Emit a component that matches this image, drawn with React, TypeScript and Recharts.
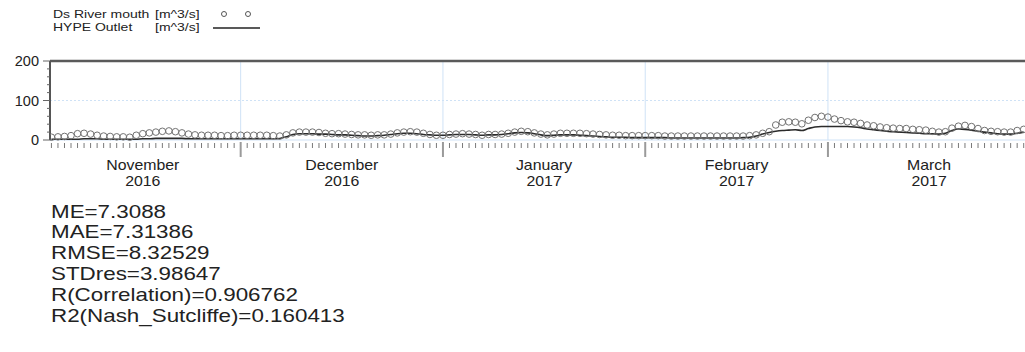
import { ComposedChart, Line, Scatter, XAxis, YAxis, ReferenceLine } from 'recharts'

// day index: 0 = 1 Nov 2016, daily values from 2 Nov 2016 to 31 Mar 2017
const DAYS = Array.from({ length: 150 }, (_, i) => i + 1)

const OBS = [
  // Nov
  7, 8, 9, 11, 16, 17, 15, 12, 10, 9, 8, 8, 7, 12, 16, 18, 20, 22, 23, 21, 18, 15, 13, 12, 12, 12, 11, 11, 12,
  // Dec
  12, 12, 12, 12, 12, 11, 10, 13, 18, 20, 20, 20, 19, 17, 16, 16, 15, 14, 13, 13, 12, 13, 13, 15, 18, 20, 21, 20, 17, 14, 12,
  // Jan
  12, 14, 15, 16, 15, 14, 12, 14, 14, 15, 17, 20, 22, 21, 18, 15, 13, 15, 17, 17, 17, 17, 16, 15, 14, 13, 12, 12, 11, 11, 11,
  // Feb
  11, 11, 11, 10, 10, 10, 10, 10, 10, 10, 10, 10, 10, 10, 10, 10, 11, 13, 17, 21, 38, 45, 46, 45, 41, 50, 57, 60,
  // Mar
  58, 53, 49, 46, 45, 42, 38, 36, 33, 31, 30, 29, 29, 27, 26, 25, 22, 20, 21, 30, 35, 37, 34, 29, 24, 22, 21, 20, 20, 24, 27,
]

const HYPE = [
  2, 2, 2, 2, 2, 3, 3, 3, 2, 2, 2, 2, 2, 2, 3, 3, 4, 4, 4, 4, 4, 3, 3, 3, 3, 3, 3, 3, 3, 3, 3, 3, 3, 3, 3, 4,
  8, 14, 16, 16, 16, 15, 15, 14, 13, 13, 12, 11, 10, 10, 11, 12, 14, 16, 17, 17, 16, 14, 13, 12,
  12, 13, 14, 14, 14, 13, 12, 13, 13, 14, 16, 18, 19, 18, 16, 13, 11, 12, 13, 13, 13, 12, 11, 10, 9, 8, 7, 7, 7, 6, 6,
  6, 6, 6, 6, 5, 5, 5, 5, 5, 5, 5, 5, 5, 5, 5, 6, 7,
  10, 15, 19, 22, 24, 25, 26, 24, 29, 33, 34,
  34, 34, 34, 34, 33, 31, 28, 26, 24, 22, 21, 20, 19, 18, 17, 16, 16, 15, 17, 24, 28, 27, 25, 22, 20, 18, 16, 15, 15, 17, 20,
]

const MONTH_STARTS = [30, 61, 92, 120]
const MONTH_MIDS = [15, 45.5, 76.5, 106, 135.5]
const MONTH_NAMES = ['November', 'December', 'January', 'February', 'March']
const MONTH_YEARS = ['2016', '2016', '2017', '2017', '2017']

const Y_TICKS = [0, 20, 40, 60, 80, 100, 120, 140, 160, 180, 200]

const STATS = [
  'ME=7.3088',
  'MAE=7.31386',
  'RMSE=8.32529',
  'STDres=3.98647',
  'R(Correlation)=0.906762',
  'R2(Nash_Sutcliffe)=0.160413',
]

const rows = DAYS.map((d, i) => ({ d, obs: OBS[i], hype: HYPE[i] }))
const xTicks = [...DAYS, 45.5, 76.5, 135.5].sort((a, b) => a - b)

const FONT = '"Liberation Sans", Arial, sans-serif'
const GRID = '#cfe2f6'
// text in this plot is set slightly wide
const WIDE = 1.15

function XTick(props: any) {
  const { x, y, payload } = props
  const v = payload.value
  const m = MONTH_MIDS.indexOf(v)
  return (
    <g>
      {Number.isInteger(v) &&
        (MONTH_STARTS.includes(v) ? (
          <line x1={x} x2={x} y1={y + 2} y2={y + 17} stroke="#9a9a9a" strokeWidth={2} />
        ) : (
          <line x1={x} x2={x} y1={y + 3} y2={y + 8} stroke="#7a7a7a" strokeWidth={1} />
        ))}
      {m >= 0 && (
        <g transform={`translate(${x} ${y}) scale(${WIDE} 1)`}>
          <text x={0} y={30} textAnchor="middle" fontSize={13.8} fill="#222" fontFamily={FONT}>
            {MONTH_NAMES[m]}
          </text>
          <text x={0} y={46} textAnchor="middle" fontSize={13.8} fill="#222" fontFamily={FONT}>
            {MONTH_YEARS[m]}
          </text>
        </g>
      )}
    </g>
  )
}

function YTick(props: any) {
  const { x, y, payload } = props
  const v = payload.value
  const major = v % 100 === 0
  return (
    <g>
      <line x1={x - (major ? 7 : 3)} x2={x} y1={y} y2={y} stroke="#666" strokeWidth={1} />
      {major && (
        <text x={x - 11} y={y + 5} textAnchor="end" fontSize={14.5} fill="#222" fontFamily={FONT}>
          {v}
        </text>
      )}
    </g>
  )
}

const ring = (p: any) => <circle cx={p.cx} cy={p.cy} r={3.3} fill="none" stroke="#727272" strokeWidth={1} />

const wideSpan = (scale: number): React.CSSProperties => ({
  display: 'inline-block',
  transform: `scaleX(${scale})`,
  transformOrigin: 'left center',
  whiteSpace: 'nowrap',
})

export default function App() {
  return (
    <div
      style={{
        position: 'absolute',
        left: 0,
        top: 0,
        width: 1025,
        height: 352,
        overflow: 'hidden',
        background: '#fff',
        fontFamily: FONT,
        color: '#222',
      }}
    >
      {/* legend */}
      <div style={{ position: 'absolute', left: 53, top: 7.5, fontSize: 11.2, lineHeight: '13px' }}>
        <div style={{ position: 'relative', height: 13 }}>
          <span style={wideSpan(1.25)}>Ds River mouth</span>
          <span style={{ ...wideSpan(1.25), position: 'absolute', left: 102 }}>[m^3/s]</span>
        </div>
        <div style={{ position: 'relative', height: 13 }}>
          <span style={wideSpan(1.25)}>HYPE Outlet</span>
          <span style={{ ...wideSpan(1.25), position: 'absolute', left: 102 }}>[m^3/s]</span>
        </div>
      </div>
      <svg style={{ position: 'absolute', left: 0, top: 0 }} width={300} height={40}>
        <circle cx={224} cy={14} r={2.5} fill="none" stroke="#555" />
        <circle cx={248} cy={14} r={2.5} fill="none" stroke="#555" />
        <line x1={213} x2={260} y1={28} y2={28} stroke="#222" strokeWidth={1.3} />
      </svg>

      <div style={{ position: 'absolute', left: 0, top: 0 }}>
        <ComposedChart width={1025} height={200} data={rows} margin={{ top: 61, right: 0, bottom: 0, left: 0 }}>
          <XAxis
            dataKey="d"
            type="number"
            domain={[0.78, 150.2]}
            allowDataOverflow
            ticks={xTicks}
            interval={0}
            height={60}
            tickSize={0}
            tickMargin={0}
            axisLine={false}
            tickLine={false}
            tick={<XTick />}
          />
          <YAxis
            type="number"
            domain={[0, 200]}
            ticks={Y_TICKS}
            interval={0}
            width={50}
            tickSize={0}
            tickMargin={0}
            tickLine={false}
            axisLine={{ stroke: '#555', strokeWidth: 2 }}
            tick={<YTick />}
          />
          <ReferenceLine y={0} stroke={GRID} strokeWidth={1} />
          <ReferenceLine y={100} stroke={GRID} strokeWidth={1} strokeDasharray="2 2" />
          {MONTH_STARTS.map((m) => (
            <ReferenceLine key={m} x={m} stroke={GRID} strokeWidth={1} />
          ))}
          <ReferenceLine y={200} stroke="#5a5a5a" strokeWidth={2.5} />
          <Line
            dataKey="hype"
            type="monotone"
            stroke="#2b2b2b"
            strokeWidth={1.6}
            dot={false}
            isAnimationActive={false}
          />
          <Scatter dataKey="obs" shape={ring} isAnimationActive={false} />
        </ComposedChart>
      </div>

      {/* goodness-of-fit statistics */}
      <div style={{ position: 'absolute', left: 51, top: 201.5, fontSize: 18.2, lineHeight: '20.9px' }}>
        {STATS.map((s) => (
          <div key={s} style={{ height: 20.9 }}>
            <span style={wideSpan(1.23)}>{s}</span>
          </div>
        ))}
      </div>
    </div>
  )
}
